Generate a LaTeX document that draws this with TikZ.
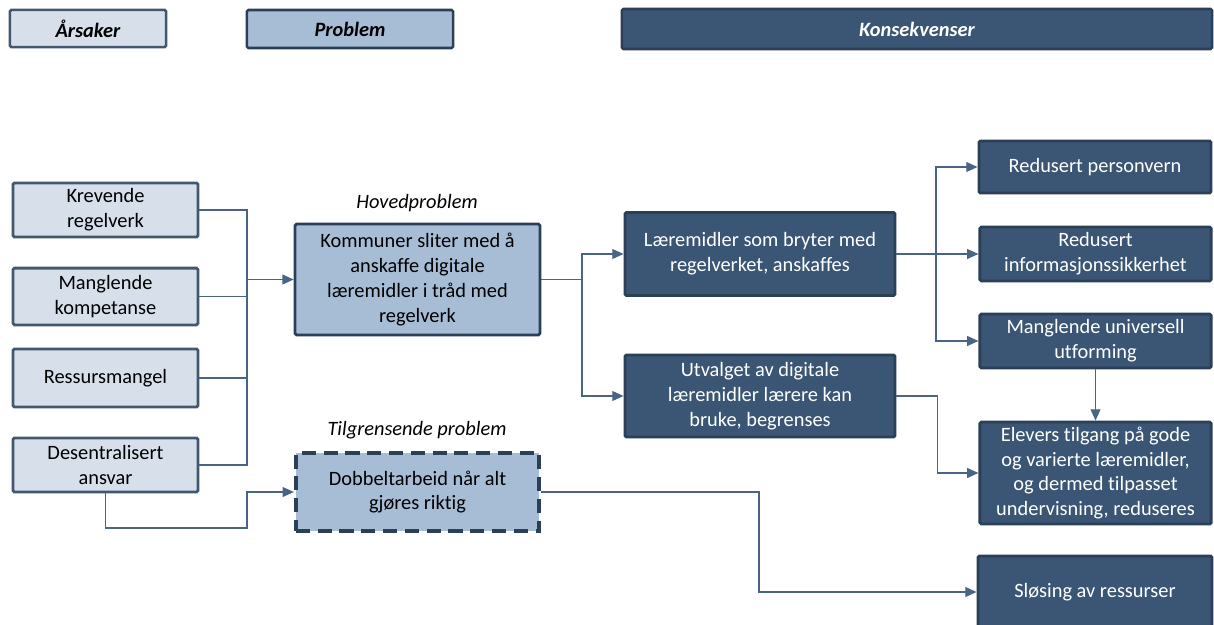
\documentclass[tikz,border=0pt]{standalone}
\usepackage{fontspec}
\setmainfont{Carlito}[Ligatures={TeX,NoCommon}]
\usetikzlibrary{arrows.meta}
\definecolor{lysfyll}{HTML}{D6DFEA}
\definecolor{midfyll}{HTML}{A7BDD6}
\definecolor{morkfyll}{HTML}{3B5674}
\definecolor{morkstrek}{HTML}{2B3F57}
\definecolor{lysstrek}{HTML}{43576F}
\definecolor{linjefarge}{HTML}{4A6485}

\tikzset{
  boks/.style={line width=2pt,rounded corners=1pt,align=center,inner sep=2pt,
    font=\fontsize{14.5}{17.6}\selectfont},
  aarsakboks/.style={boks,fill=lysfyll,draw=lysstrek},
  problemboks/.style={boks,fill=midfyll,draw=morkstrek},
  konsboks/.style={boks,fill=morkfyll,draw=morkstrek,text=white},
  tittel/.style={line width=1.8pt,rounded corners=1pt,
    font=\fontsize{14.5}{17}\selectfont\bfseries\itshape},
  etikett/.style={font=\fontsize{14.5}{17.6}\selectfont\itshape},
  linje/.style={draw=linjefarge,line width=0.9pt},
  pil/.style={linje,-{Triangle[length=8pt,width=7pt]}}
}

\begin{document}
\begin{tikzpicture}[x=0.025cm,y=-0.025cm]
  \useasboundingbox (0,0) rectangle (1214,624);

  % overskrifter
  \node[tittel,fill=lysfyll,draw=lysstrek,minimum width=3.9cm,minimum height=0.93cm] (aarsaker) at (88,28.5) {Årsaker};
  \node[tittel,fill=midfyll,draw=morkstrek,minimum width=5.15cm,minimum height=0.95cm] (problem) at (350,29) {Problem};
  \node[tittel,fill=morkfyll,draw=morkstrek,text=white,minimum width=14.75cm,minimum height=1cm] (konsekvenser) at (917,29) {Konsekvenser};

  % årsaker
  \node[aarsakboks,minimum width=4.62cm,minimum height=1.35cm] (kreve) at (105.5,210) {Krevende\\regelverk};
  \node[aarsakboks,minimum width=4.62cm,minimum height=1.42cm] (mangl) at (105.5,296.5) {Manglende\\kompetanse};
  \node[aarsakboks,minimum width=4.62cm,minimum height=1.45cm] (ressurs) at (105.5,378) {Ressursmangel};
  \node[aarsakboks,minimum width=4.62cm,minimum height=1.35cm] (desent) at (105.5,465) {Desentralisert\\ansvar};

  % problemer
  \node[etikett] (hovedlbl) at (417,203) {Hovedproblem};
  \node[problemboks,minimum width=6.12cm,minimum height=2.77cm] (hoved) at (417.5,279.5)
    {Kommuner sliter med å\\anskaffe digitale\\læremidler i tråd med\\regelverk};
  \node[etikett] (tilgrlbl) at (417,430) {Tilgrensende problem};
  \node[problemboks,line width=2.8pt,dash pattern=on 10pt off 5.5pt,rounded corners=0pt,minimum width=6.08cm,minimum height=1.96cm] (dobbel) at (417.5,492)
    {Dobbeltarbeid når alt\\gjøres riktig};

  % konsekvenser
  \node[konsboks,minimum width=6.75cm,minimum height=2.07cm] (bryter) at (760,254) {Læremidler som bryter med\\regelverket, anskaffes};
  \node[konsboks,minimum width=6.75cm,minimum height=2.05cm] (utvalg) at (760,396) {Utvalget av digitale\\læremidler lærere kan\\bruke, begrenses};
  \node[konsboks,minimum width=5.8cm,minimum height=1.3cm] (person) at (1095,167) {Redusert personvern};
  \node[konsboks,minimum width=5.78cm,minimum height=1.35cm] (info) at (1095.5,254) {Redusert\\informasjonssikkerhet};
  \node[konsboks,minimum width=5.78cm,minimum height=1.35cm] (univ) at (1095.5,341) {Manglende universell\\utforming};
  \node[konsboks,minimum width=5.78cm,minimum height=2.55cm] (elever) at (1095.5,473)
    {Elevers tilgang på gode\\og varierte læremidler,\\og dermed tilpasset\\undervisning, reduseres};
  \node[konsboks,minimum width=5.85cm,minimum height=1.8cm] (sloes) at (1095,592) {Sløsing av ressurser};

  % koblinger
  \coordinate (samleA) at (247,279.5);
  \coordinate (samleB) at (247,528);
  \coordinate (samleC) at (582,279.5);
  \coordinate (samleD) at (936,254);
  \draw[linje] (kreve.east) -| (samleA);
  \draw[linje] (mangl.east) -| (samleA);
  \draw[linje] (ressurs.east) -| (samleA);
  \draw[linje] (desent.east) -| (samleA);
  \draw[pil] (samleA) -- (hoved.west);
  \draw[pil] (desent.south) |- (samleB) |- (dobbel.west);
  \draw[linje] (hoved.east) -- (samleC);
  \draw[pil] (samleC) |- (bryter.west);
  \draw[pil] (samleC) |- (utvalg.west);
  \draw[pil] (bryter.east) -- (info.west);
  \draw[pil] (samleD) |- (person.west);
  \draw[pil] (samleD) |- (univ.west);
  \draw[pil] (univ.south) -- (elever.north);
  \draw[pil] (utvalg.east) -- ++(41,0) |- (elever.west);
  \draw[pil] (dobbel.east) -- ++(218,0) |- (sloes.west);
\end{tikzpicture}
\end{document}
